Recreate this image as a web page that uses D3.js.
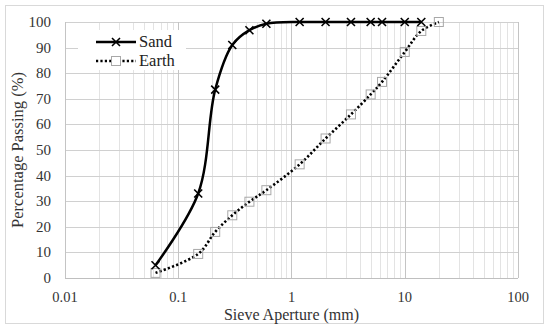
<!DOCTYPE html>
<html><head><meta charset="utf-8">
<script src="https://cdn.jsdelivr.net/npm/d3@7"></script>
<style>body{margin:0;background:#fff}svg{display:block}</style>
</head><body>
<svg id="c" width="550" height="330"></svg>
<script>
const sandSize = [0.063, 0.15, 0.212, 0.3, 0.425, 0.6, 1.18, 2, 3.35, 5, 6.3, 10, 14];
const sandPass = [5, 33, 73.6, 91, 96.8, 99.3, 100, 100, 100, 100, 100, 100, 100];
const earthSize = [0.063, 0.15, 0.212, 0.3, 0.425, 0.6, 1.18, 2, 3.35, 5, 6.3, 10, 14, 20];
const earthPass = [2, 9.4, 18, 24.5, 29.8, 34.3, 44.4, 54.5, 63.9, 71.7, 76.6, 88.3, 96.5, 100];
const xTicks = [0.01, 0.1, 1, 10, 100];
const xTickLabels = ["0.01", "0.1", "1", "10", "100"];
const yTicks = [0, 10, 20, 30, 40, 50, 60, 70, 80, 90, 100];
const seriesNames = ["Sand", "Earth"];

const svg = d3.select("#c");
const font = "'Liberation Serif', 'DejaVu Serif', serif";
svg.append("rect").attr("x",5.5).attr("y",5.5).attr("width",538).attr("height",318)
  .attr("fill","#fff").attr("stroke","#d9d9d9");

const m = {l:65, r:518, t:22, b:278};
const x = d3.scaleLog().domain([0.01,100]).range([m.l,m.r]);
const y = d3.scaleLinear().domain([0,100]).range([m.b,m.t]);

const g = svg.append("g");
const minor = [];
for (let d=0.01; d<100; d*=10) for (let k=2;k<=9;k++) minor.push(+(d*k).toPrecision(3));
g.selectAll(".mn").data(minor).join("line")
  .attr("x1",d=>Math.round(x(d))+0.5).attr("x2",d=>Math.round(x(d))+0.5)
  .attr("y1",m.t).attr("y2",m.b).attr("stroke","#e3e3e3").attr("stroke-width",1);
g.selectAll(".hy").data(yTicks).join("line")
  .attr("x1",m.l).attr("x2",m.r).attr("y1",d=>Math.round(y(d))+0.5).attr("y2",d=>Math.round(y(d))+0.5)
  .attr("stroke","#d0d0d0");
g.selectAll(".mj").data(xTicks).join("line")
  .attr("x1",d=>Math.round(x(d))+0.5).attr("x2",d=>Math.round(x(d))+0.5)
  .attr("y1",m.t).attr("y2",m.b).attr("stroke","#c4c4c4");
g.append("line").attr("x1",m.l).attr("x2",m.r).attr("y1",Math.round(m.b)+0.5).attr("y2",Math.round(m.b)+0.5).attr("stroke","#bfbfbf");
g.append("line").attr("x1",m.l+0.5).attr("x2",m.l+0.5).attr("y1",m.t).attr("y2",m.b).attr("stroke","#c4c4c4");

svg.selectAll(".xt").data(xTicks).join("text")
  .attr("x",d=>x(d)).attr("y",301.5).attr("text-anchor","middle")
  .attr("font-family",font).attr("font-size",14.5).attr("fill","#333")
  .text((d,i)=>xTickLabels[i]);
svg.selectAll(".yt").data(yTicks).join("text")
  .attr("x",51).attr("y",d=>y(d)+5).attr("text-anchor","end")
  .attr("font-family",font).attr("font-size",15).attr("fill","#333")
  .text(d=>d);
svg.append("text").attr("x",(m.l+m.r)/2).attr("y",319.5).attr("text-anchor","middle")
  .attr("font-family",font).attr("font-size",16).attr("fill","#333").text("Sieve Aperture (mm)");
svg.append("text").attr("transform",`translate(23,${(m.t+m.b)/2}) rotate(-90)`).attr("text-anchor","middle")
  .attr("font-family",font).attr("font-size",16.5).attr("fill","#333").text("Percentage Passing (%)");

const line = d3.line().curve(d3.curveCatmullRom.alpha(0.5));
const sandPts = sandSize.map((s,i)=>[x(s), y(sandPass[i])]);
const earthPts = earthSize.map((s,i)=>[x(s), y(earthPass[i])]);

g.append("path").attr("d",line(earthPts)).attr("fill","none").attr("stroke","#000")
  .attr("stroke-width",2.6).attr("stroke-dasharray","2.2,2.2");
g.selectAll(".em").data(earthPts).join("rect")
  .attr("x",d=>d[0]-4.5).attr("y",d=>d[1]-4.5).attr("width",9).attr("height",9)
  .attr("fill","none").attr("stroke","#a8a8a8").attr("stroke-width",1);
g.append("path").attr("d",line(sandPts)).attr("fill","none").attr("stroke","#000").attr("stroke-width",2.5);
const cross = (sel,cx,cy,r)=>{
  sel.append("path").attr("d",`M${cx-r},${cy-r}L${cx+r},${cy+r}M${cx-r},${cy+r}L${cx+r},${cy-r}`)
    .attr("stroke","#000").attr("stroke-width",1.6).attr("fill","none");
};
sandPts.forEach(p=>cross(g,p[0],p[1],4));

const lg = svg.append("g");
lg.append("rect").attr("x",78).attr("y",30).attr("width",108).attr("height",40).attr("fill","#fff");
lg.append("line").attr("x1",96).attr("x2",136).attr("y1",42).attr("y2",42).attr("stroke","#000").attr("stroke-width",2.5);
cross(lg,116,42,4);
lg.append("line").attr("x1",96).attr("x2",136).attr("y1",61).attr("y2",61).attr("stroke","#000")
  .attr("stroke-width",2.6).attr("stroke-dasharray","2.2,2.2");
lg.append("rect").attr("x",111.5).attr("y",56.5).attr("width",9).attr("height",9).attr("fill","#fff").attr("stroke","#a8a8a8");
lg.selectAll(".lt").data(seriesNames).join("text")
  .attr("x",139).attr("y",(d,i)=>47+i*19).attr("font-family",font).attr("font-size",16.5).attr("fill","#222")
  .text(d=>d);
</script>
</body></html>
